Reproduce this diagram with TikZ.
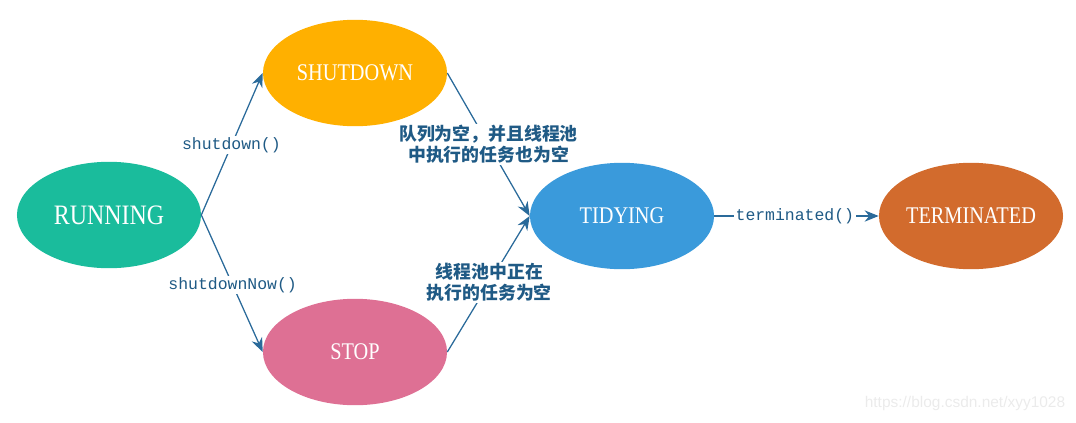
\documentclass[tikz,border=0pt]{standalone}
\usepackage{fontspec}
\newfontfamily\statefont{Liberation Serif}
\newfontfamily\codefont{Liberation Mono}
\newfontfamily\cjk{Noto Sans CJK SC}
\usetikzlibrary{arrows.meta,shapes.geometric}

\definecolor{runcol}{HTML}{1ABC9C}
\definecolor{shutcol}{HTML}{FFB000}
\definecolor{stopcol}{HTML}{DE7094}
\definecolor{tidycol}{HTML}{3A9ADB}
\definecolor{termcol}{HTML}{D26B2D}
\definecolor{linecol}{HTML}{2A6A9A}
\definecolor{labcol}{HTML}{1F5A85}

% state name, narrowed and kept out of the ellipse size
\newcommand{\stname}[1]{\makebox[0pt]{\scalebox{0.85}[1]{#1}}}

\tikzset{
  state/.style={ellipse, draw=none, text=white, inner sep=0pt,
    minimum width=4.6cm, minimum height=2.66cm,
    font=\statefont\fontsize{17}{17}\selectfont},
  trans/.style={draw=linecol, line width=0.9pt, -{Stealth[length=10pt,width=8pt]}},
  codelab/.style={fill=white, text=labcol, inner sep=1pt,
    font=\codefont\fontsize{11.7}{11.7}\selectfont},
  cjklab/.style={fill=white, text=labcol, inner sep=1pt, align=center,
    font=\cjk\bfseries\fontsize{12.7}{15}\selectfont}
}

\begin{document}
\begin{tikzpicture}[x=0.025cm, y=-0.025cm]
\useasboundingbox (0,0) rectangle (1076,422);

% states
\node(run)  [state, fill=runcol, font=\statefont\fontsize{20}{20}\selectfont] at (109,215) {\stname{RUNNING}};
\node(shut) [state, fill=shutcol] at (355,73)  {\stname{SHUTDOWN}};
\node(stop) [state, fill=stopcol] at (355,352) {\stname{STOP}};
\node(tidy) [state, fill=tidycol] at (622,216) {\stname{TIDYING}};
\node(term) [state, fill=termcol] at (971,216) {\stname{TERMINATED}};

% transitions
\draw[trans] (run.east) -- node[codelab, pos=0.49] {shutdown()} (shut.west);
\draw[trans] (run.east) -- node[codelab, pos=0.51] {shutdownNow()} (stop.west);
\draw[trans] (shut.east) -- node[cjklab, pos=0.5] {队列为空，并且线程池\\中执行的任务也为空} (tidy.west);
\draw[trans] (stop.east) -- node[cjklab, pos=0.51] {线程池中正在\\执行的任务为空} (tidy.west);
\draw[trans] (tidy.east) -- node[codelab, pos=0.49] {terminated()} (term.west);

% watermark
\node(mark) [text=black!8, font=\fontspec{Liberation Sans}\fontsize{11}{11}\selectfont] at (965,403) {https://blog.csdn.net/xyy1028};

\end{tikzpicture}
\end{document}
